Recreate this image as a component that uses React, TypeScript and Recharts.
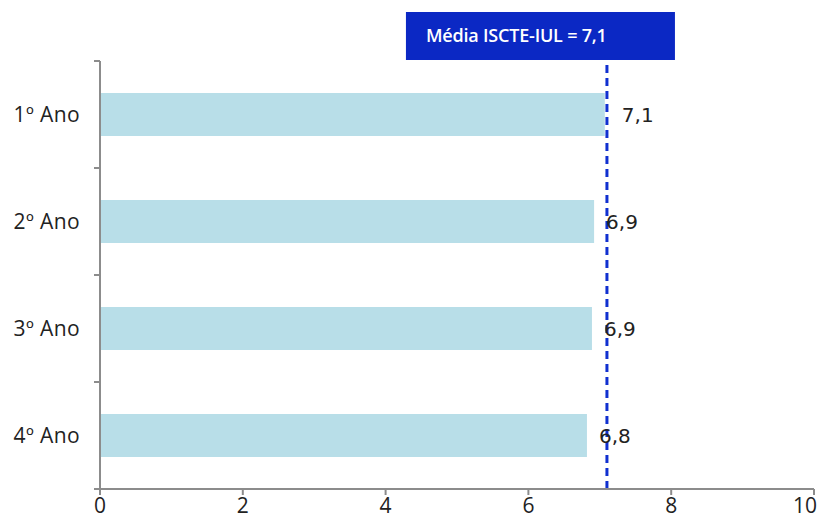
import React from "react";
import { BarChart, Bar, XAxis, YAxis, ReferenceLine, LabelList } from "recharts";

const categories = ["1º Ano", "2º Ano", "3º Ano", "4º Ano"];
const values = [7.07, 6.92, 6.89, 6.82];
const valueLabels = ["7,1", "6,9", "6,9", "6,8"];
const xTicks = [0, 2, 4, 6, 8, 10];
const mean = 7.1;
const meanLabel = "Média ISCTE-IUL = 7,1";

const data = categories.map((c, i) => ({ name: c, value: values[i], label: valueLabels[i] }));

const AXIS = "#8c8c8c";
const TICK_FONT = "'Open Sans', 'DejaVu Sans', sans-serif";

const YTick = (props: any) => {
  const { x, y, payload } = props;
  const half = payload && payload.offset ? payload.offset : 53.5;
  const ax = x + 8;
  return (
    <g>
      <line x1={ax - 6} x2={ax} y1={y - half} y2={y - half} stroke={AXIS} strokeWidth={2} />
      <line x1={ax - 6} x2={ax} y1={y + half} y2={y + half} stroke={AXIS} strokeWidth={2} />
      <text x={x - 12} y={y} dy={7} textAnchor="end" fontFamily={TICK_FONT} fontSize={21} letterSpacing={0.4} fill="#222">
        {payload.value}
      </text>
    </g>
  );
};

const XTick = (props: any) => {
  const { x, y, payload, index } = props;
  const last = index === xTicks.length - 1;
  return (
    <text
      x={last ? x + 5 : x}
      y={y + 18}
      textAnchor={last ? "end" : "middle"}
      fontFamily={TICK_FONT}
      fontSize={21}
      fill="#222"
    >
      {payload.value}
    </text>
  );
};

const ValueLabel = (props: any) => {
  const { x, y, width, height, index } = props;
  const extra = index === 0 ? 17 : 12;
  return (
    <text x={x + width + extra} y={y + height / 2} dy={7} fontFamily="'DejaVu Sans', sans-serif" fontSize={20} fill="#222">
      {valueLabels[index]}
    </text>
  );
};

const MeanLabel = (props: any) => {
  const { viewBox } = props;
  const lx = viewBox.x;
  const top = viewBox.y;
  return (
    <g>
      <rect x={lx - 201} y={top - 49} width={269} height={48} fill="#0b28c4" />
      <text x={lx - 181} y={top - 25} dy={6} fontFamily="'Open Sans', sans-serif" fontWeight={600} fontSize={18} fill="#ffffff" letterSpacing={-0.2}>
        {meanLabel}
      </text>
    </g>
  );
};

export default function App() {
  return (
    <div style={{ width: 812, height: 511 }}>
      <BarChart
        width={812}
        height={511}
        data={data}
        layout="vertical"
        margin={{ top: 53, right: 6, bottom: 0, left: 0 }}
        barCategoryGap={0}
      >
        <XAxis
          type="number"
          domain={[0, 10]}
          ticks={xTicks}
          axisLine={{ stroke: AXIS, strokeWidth: 2 }}
          tickLine={{ stroke: AXIS, strokeWidth: 2 }}
          tickSize={6}
          tick={<XTick />}
          tickMargin={0}
          height={30}
        />
        <YAxis
          type="category"
          dataKey="name"
          width={92}
          axisLine={{ stroke: AXIS, strokeWidth: 2 }}
          tickLine={false}
          tick={<YTick />}
        />
        <Bar dataKey="value" fill="#b8dee8" barSize={43} isAnimationActive={false}>
          <LabelList dataKey="label" content={<ValueLabel />} />
        </Bar>
        <ReferenceLine
          x={mean}
          stroke="#1030d0"
          strokeWidth={3}
          strokeDasharray="8 5"
          label={<MeanLabel />}
        />
      </BarChart>
    </div>
  );
}
